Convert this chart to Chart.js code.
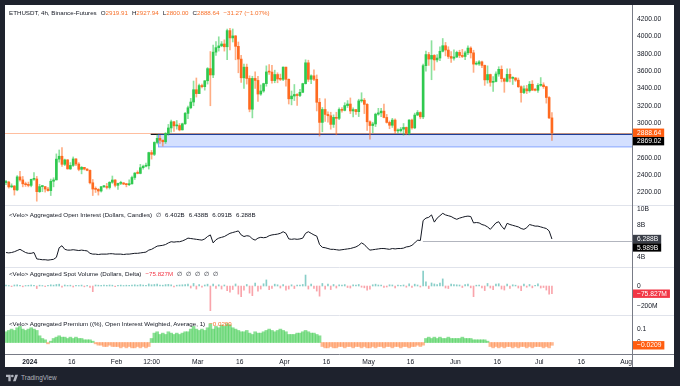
<!DOCTYPE html>
<html>
<head>
<meta charset="utf-8">
<title>ETHUSDT 4h</title>
<script src="https://cdn.jsdelivr.net/npm/chart.js@4.4.1/dist/chart.umd.min.js"></script>
<style>
  html, body { margin: 0; padding: 0; }
  body { width: 680px; height: 386px; background: #1e222d; position: relative; overflow: hidden;
         font-family: "Liberation Sans", Arial, sans-serif; }
  #panel { position: absolute; left: 5px; top: 5px; width: 669px; height: 362px; background: #ffffff; }
  #priceChart { position: absolute; left: 0; top: 0; }
  .legend { position: absolute; left: 4px; font-size: 6.2px; line-height: 8px; color: #131722; white-space: nowrap; }
  .legend .item { margin-left: 4px; }
  .orange { color: #f7702a; }
  .red { color: #f23645; }
  #footer { position: absolute; left: 6px; top: 373px; color: #b2b5be; font-size: 6.5px; line-height: 10px;
            display: flex; align-items: center; gap: 3px; }
</style>
</head>
<body>
<div id="panel">
  <canvas id="priceChart" width="669" height="362"></canvas>
  <div class="legend" id="legPrice">ETHUSDT, 4h, Binance-Futures<span class="item">O<span class="orange">2919.91</span></span><span class="item">H<span class="orange">2927.94</span></span><span class="item">L<span class="orange">2800.00</span></span><span class="item">C<span class="orange">2888.64</span></span><span class="item orange">−31.27 (−1.07%)</span></div>
  <div class="legend" id="legOI">&lt;Velo&gt; Aggregated Open Interest (Dollars, Candles)<span class="item">∅</span><span class="item">6.402B</span><span class="item">6.438B</span><span class="item">6.091B</span><span class="item">6.288B</span></div>
  <div class="legend" id="legVol">&lt;Velo&gt; Aggregated Spot Volume (Dollars, Delta)<span class="item red">−75.827M</span><span class="item">∅</span><span class="item">∅</span><span class="item">∅</span><span class="item">∅</span><span class="item">∅</span></div>
  <div class="legend" id="legPrem">&lt;Velo&gt; Aggregated Premium ((%), Open Interest Weighted, Average, 1)<span class="item orange">−0.0209</span></div>
</div>
<div id="footer">
  <svg width="12" height="8" viewBox="0 0 36 24"><path d="M14 22H7V9H0V2h14v20zM29 22h-8l7-20h8l-7 20z" fill="#b2b5be"/><circle cx="19" cy="6" r="4" fill="#b2b5be"/></svg>
  <span>TradingView</span>
</div>

<script>
// Daily bars, first one is 2023-12-23 (day -9 counted from 2024-01-01)
const firstDay = -9;
const firstOpen = 2315;

const closes = [
  // Dec 23-31
  2320, 2265, 2275, 2230, 2380, 2345, 2300, 2290, 2282,
  // Jan
  2352, 2356, 2210, 2268, 2268, 2240, 2222, 2330, 2345, 2585, 2618, 2525, 2576, 2472, 2512, 2587,
  2528, 2467, 2490, 2470, 2455, 2312, 2240, 2236, 2217, 2267, 2268, 2258, 2318, 2344, 2283,
  // Feb
  2305, 2310, 2297, 2290, 2300, 2373, 2424, 2420, 2486, 2503, 2508, 2660, 2640, 2777, 2824,
  2803, 2785, 2880, 2944, 3015, 2968, 2972, 2922, 2992, 3112, 3177, 3243, 3385, 3340,
  // Mar
  3433, 3420, 3488, 3628, 3555, 3818, 3870, 3890, 3912, 3880, 4066, 3982, 4005, 3885, 3738, 3522,
  3645, 3515, 3160, 3515, 3492, 3335, 3370, 3455, 3590, 3588, 3490, 3560, 3508, 3505, 3645,
  // Apr
  3505, 3280, 3312, 3330, 3318, 3355, 3455, 3695, 3505, 3545, 3505, 3240, 3008, 3157, 3100,
  3085, 2985, 3066, 3055, 3157, 3147, 3202, 3220, 3140, 3156, 3132, 3256, 3264, 3216, 3015,
  // May
  2972, 2990, 3103, 3118, 3138, 3065, 3008, 2975, 3035, 2910, 2912, 2930, 2950, 2882, 3035, 2945,
  3093, 3122, 3072, 3662, 3790, 3738, 3780, 3728, 3750, 3828, 3892, 3842, 3768, 3748, 3762,
  // Jun
  3815, 3780, 3768, 3810, 3865, 3810, 3680, 3682, 3706, 3665, 3498, 3560, 3470, 3480, 3566,
  3620, 3512, 3482, 3562, 3516, 3520, 3495, 3420, 3352, 3395, 3372, 3448, 3380, 3378, 3435,
  // Jul 1-5
  3440, 3420, 3295, 3060, 2888.64
];

const highs = [
  2340, 2330, 2300, 2280, 2395, 2445, 2385, 2320, 2320,
  2355, 2430, 2385, 2295, 2280, 2270, 2260, 2355, 2370, 2645, 2690, 2717, 2585, 2580, 2545, 2610,
  2590, 2545, 2500, 2490, 2475, 2460, 2350, 2265, 2245, 2270, 2280, 2305, 2325, 2390, 2350,
  2310, 2330, 2315, 2305, 2345, 2390, 2430, 2450, 2525, 2515, 2540, 2665, 2685, 2785, 2865,
  2860, 2805, 2890, 2985, 3035, 3020, 3030, 2995, 3000, 3125, 3195, 3285, 3485, 3520,
  3450, 3450, 3490, 3640, 3825, 3900, 3940, 3995, 3940, 3960, 4085, 4093, 4085, 4010, 3935, 3780,
  3680, 3680, 3545, 3540, 3590, 3540, 3440, 3460, 3660, 3675, 3665, 3610, 3580, 3565, 3650,
  3645, 3510, 3370, 3445, 3340, 3390, 3460, 3730, 3725, 3555, 3615, 3555, 3285, 3180, 3280,
  3130, 3125, 3095, 3125, 3175, 3180, 3235, 3260, 3290, 3175, 3160, 3275, 3350, 3285, 3225,
  3025, 3010, 3115, 3170, 3170, 3220, 3100, 3025, 3055, 3050, 2935, 2950, 2995, 2955, 3040, 3045,
  3115, 3145, 3130, 3680, 3830, 3815, 3950, 3790, 3790, 3880, 3975, 3930, 3880, 3825, 3845,
  3830, 3840, 3850, 3830, 3890, 3880, 3840, 3710, 3720, 3715, 3670, 3660, 3565, 3535, 3590,
  3650, 3660, 3520, 3625, 3625, 3535, 3525, 3520, 3430, 3430, 3435, 3480, 3490, 3400, 3455,
  3525, 3465, 3425, 3305, 3120
];

const lows = [
  2290, 2250, 2255, 2170, 2220, 2330, 2265, 2270, 2265,
  2265, 2340, 2100, 2200, 2210, 2205, 2215, 2165, 2265, 2345, 2550, 2500, 2510, 2470, 2465, 2500,
  2510, 2450, 2415, 2460, 2450, 2300, 2165, 2200, 2170, 2205, 2255, 2240, 2240, 2305, 2265,
  2235, 2290, 2290, 2265, 2280, 2295, 2350, 2415, 2415, 2470, 2495, 2470, 2585, 2625, 2760,
  2765, 2735, 2765, 2860, 2895, 2905, 2930, 2910, 2920, 2985, 3050, 3165, 3200, 3300,
  3340, 3405, 3380, 3450, 3200, 3525, 3780, 3830, 3880, 3830, 3730, 3845, 3935, 3730, 3580, 3470,
  3400, 3450, 3130, 3060, 3400, 3250, 3320, 3355, 3425, 3560, 3460, 3465, 3465, 3490, 3490,
  3425, 3220, 3210, 3260, 3205, 3305, 3350, 3450, 3480, 3455, 3490, 3140, 2850, 2900, 3020,
  3010, 2930, 2950, 2865, 3040, 3125, 3140, 3180, 3110, 3070, 3100, 3075, 3240, 3110, 2915,
  2815, 2890, 2960, 3090, 3075, 3060, 3000, 2935, 2950, 2880, 2885, 2895, 2860, 2865, 2865, 2930,
  2935, 3085, 3050, 3050, 3600, 3665, 3500, 3610, 3705, 3720, 3820, 3775, 3745, 3700, 3725,
  3755, 3755, 3755, 3730, 3790, 3750, 3585, 3670, 3665, 3640, 3435, 3460, 3425, 3365, 3475,
  3540, 3475, 3355, 3475, 3475, 3445, 3480, 3410, 3240, 3340, 3340, 3355, 3375, 3370, 3355,
  3425, 3400, 3230, 3050, 2800
];

// Aggregated open interest, billions of dollars
const openInterest = [
  4.6, 4.55, 4.6, 4.7, 4.85, 5.0, 4.8, 4.6, 4.5,
  4.5, 4.6, 3.8, 3.75, 3.7, 3.7, 3.65, 3.7, 3.75, 4.0, 5.2, 5.45, 5.0, 4.9, 4.9, 4.95,
  4.9, 4.85, 4.9, 4.85, 4.8, 4.5, 4.4, 4.4, 4.35, 4.4, 4.4, 4.4, 4.45, 4.45, 4.4,
  4.4, 4.4, 4.35, 4.4, 4.4, 4.45, 4.5, 4.5, 4.55, 4.6, 4.65, 4.9, 5.0, 5.2, 5.4,
  5.45, 5.5, 5.6, 5.8, 5.95, 5.9, 5.95, 5.95, 6.05, 6.2, 6.4, 6.35, 6.3, 6.25,
  6.2, 6.15, 6.3, 6.6, 6.8, 5.8, 6.2, 6.4, 6.5, 6.6, 6.8, 7.0, 7.1, 7.2, 7.3, 6.8,
  6.6, 6.7, 6.65, 6.3, 6.15, 6.4, 6.5, 6.45, 6.5, 6.7, 6.8, 6.85, 6.9, 7.0, 7.2,
  7.0, 6.3, 6.25, 6.3, 6.25, 6.3, 6.4, 7.0, 7.2, 7.0, 6.8, 6.65, 5.6, 5.25, 5.2,
  5.1, 5.0, 5.0, 4.95, 4.9, 4.95, 5.0, 5.05, 5.1, 5.2, 5.3, 5.5, 5.8, 5.6, 5.2,
  4.9, 4.95, 5.0, 5.05, 5.1, 5.1, 5.05, 5.0, 5.1, 5.05, 5.1, 5.1, 5.15, 5.3, 5.35, 5.5,
  5.8, 6.15, 6.1, 8.6, 8.9, 9.0, 9.3, 8.4, 8.9, 9.2, 9.5, 9.3, 9.2, 9.1, 8.9,
  8.75, 8.9, 9.0, 9.1, 9.15, 9.1, 8.3, 8.35, 8.3, 8.1, 8.0, 7.8, 7.5, 7.9, 8.3,
  8.45, 7.9, 7.5, 8.25, 8.1, 8.0, 7.9, 7.8, 7.6, 7.5, 7.7, 8.1, 8.0, 7.9, 7.9,
  7.8, 7.7, 7.6, 7.3, 6.288
];

// Aggregated spot volume delta, millions of dollars
const volumeDelta = [
  8, 5, -6, 10, 12, 6, -8, 5, 7,
  10, 6, -25, 8, 5, -6, 7, 12, 9, 15, 18, -12, 10, 6, 8, -10,
  7, 5, 9, -8, 6, -15, -56, 10, 8, 6, 9, 7, 10, 8, -6,
  7, 9, 5, 8, 6, 10, 12, 8, 14, 9, 7, 20, 12, 15, 18,
  10, 8, 14, 16, 12, -10, 8, 10, 12, 14, 18, -20, 25, -30,
  15, -12, 10, 18, -243, 20, -25, 12, -30, 10, -45, -60, -35, 20, -80, -105,
  -40, 15, -70, -95, 30, -50, -30, 22, 60, -35, -25, 18, 12, -20, 15,
  -40, -30, 12, -25, 10, 8, 15, 108, -30, 20, -25, -50, -100, 25, -30,
  18, -35, 15, -20, 12, 10, 14, -15, -20, 12, 10, 15, -12, -18, -40,
  -30, 12, 18, 10, 8, -15, -10, 12, 10, -20, 8, 6, 10, -12, 22, -15,
  18, 10, -10, 148, 40, -25, 30, 20, 15, 30, 70, -20, -25, 18, 15,
  12, 10, -15, 14, 20, -18, -105, 8, 10, -20, -45, 25, -20, -35, 18,
  22, -30, -40, 20, -25, 12, 8, -20, -45, 18, -12, 15, -18, 6, 22,
  -20, -15, -40, -80, -75.827
];

// Aggregated premium, percent
const premium = [
  0.08, 0.09, 0.1, 0.09, 0.11, 0.12, 0.1, 0.09, 0.1,
  0.11, 0.1, 0.09, 0.05, 0.03, 0.02, -0.01, 0.01, 0.03, 0.04, 0.05, 0.04, 0.04, 0.03, 0.04, 0.03,
  0.04, 0.03, 0.03, 0.02, 0.02, 0.02, 0.01, -0.01, -0.02, -0.02, -0.03, -0.03, -0.02, -0.03, -0.03,
  -0.03, -0.04, -0.03, -0.04, -0.03, -0.04, -0.04, -0.03, -0.04, -0.03, -0.04, -0.03, 0.03, 0.07, 0.08,
  0.06, 0.07, 0.06, 0.08, 0.07, 0.06, 0.07, 0.06, 0.07, 0.08, 0.08, 0.1, 0.12, 0.1,
  0.09, 0.1, 0.09, 0.11, 0.14, 0.1, 0.12, 0.11, 0.13, 0.12, 0.14, 0.13, 0.11, 0.1, 0.09, 0.08,
  0.08, 0.09, 0.07, 0.06, 0.08, 0.07, 0.07, 0.08, 0.09, 0.1, 0.09, 0.08, 0.09, 0.1, 0.09,
  0.08, 0.06, 0.06, 0.06, 0.07, 0.07, 0.08, 0.09, 0.08, 0.07, 0.07, 0.06, 0.05, -0.03, -0.04,
  -0.04, -0.03, -0.04, -0.04, -0.03, -0.03, -0.04, -0.03, -0.03, -0.04, -0.03, -0.03, -0.04, -0.03, -0.04,
  -0.04, -0.03, -0.04, -0.03, -0.03, -0.04, -0.03, -0.03, -0.04, -0.03, -0.03, -0.04, -0.03, -0.03, -0.04, -0.03,
  -0.03, -0.02, -0.03, -0.02, 0.03, 0.04, 0.03, 0.04, 0.03, 0.04, 0.03, 0.03, 0.04, 0.03, 0.03,
  0.03, 0.03, 0.04, 0.03, 0.03, 0.03, 0.02, 0.02, 0.02, 0.02, 0.02, 0.01, -0.03, -0.04, -0.03,
  -0.04, -0.03, -0.04, -0.03, -0.03, -0.04, -0.03, -0.04, -0.03, -0.03, -0.04, -0.03, -0.04, -0.03, -0.03,
  -0.03, -0.04, -0.03, -0.04, -0.0209
];

// Time axis: day offsets from 2024-01-01 and their labels
const timeTicks = [0, 15, 31, 43.5, 60, 75, 91, 106, 121, 136, 152, 167, 182, 197, 213];
const timeLabels = ['2024', '16', 'Feb', '12:00', 'Mar', '16', 'Apr', '16', 'May', '16', 'Jun', '16', 'Jul', '16', 'Aug'];

const priceTicks = [2200, 2400, 2600, 2800, 3000, 3200, 3400, 3600, 3800, 4000, 4200];
const oiTicks = [4, 8, 10];
const volTicks = [-200, 0];
const premTicks = [0, 0.1];

// Drawn levels
const zoneTop = 2869.02;
const zoneBottom = 2725;
const zoneStart = 45.8;
const levelStart = 43.2;
const oiLevel = 5.989;
const oiLevelStart = 140.4;

const upColor = '#2fc94f';
const downColor = '#ff6a1f';
const upWick = 'rgba(47,201,79,0.55)';
const downWick = 'rgba(255,106,31,0.55)';

const days = closes.map((_, i) => firstDay + i + 0.5);
const opens = closes.map((c, i) => i === 0 ? firstOpen : closes[i - 1]);
const last = closes.length - 1;

const fontFamily = '"Liberation Sans", Arial, sans-serif';
Chart.defaults.font.family = fontFamily;

// Tags on the right-hand scale
const tagList = [
    { axis: 'yPrice', value: closes[last], text: closes[last].toFixed(2), bg: '#ff5d0f' },
    { axis: 'yPrice', value: zoneTop, text: zoneTop.toFixed(2), bg: '#000000' },
    { axis: 'yOI', value: openInterest[last], text: openInterest[last].toFixed(3) + 'B', bg: '#3a3e48' },
    { axis: 'yOI', value: oiLevel, text: oiLevel.toFixed(3) + 'B', bg: '#000000' },
    { axis: 'yVol', value: volumeDelta[last], text: '−' + Math.abs(volumeDelta[last]).toFixed(3) + 'M', bg: '#f23645' },
    { axis: 'yPrem', value: premium[last], text: '−' + Math.abs(premium[last]).toFixed(4), bg: '#ff5d0f' }
];

const overlayPlugin = {
    id: 'overlays',
    beforeDatasetsDraw(chart) {
        const { ctx, chartArea, scales } = chart;
        const { x, yPrice, yOI } = scales;
        ctx.save();

        // last price line
        const yl = Math.round(yPrice.getPixelForValue(closes[last])) + 0.5;
        ctx.strokeStyle = 'rgba(255,93,15,0.4)';
        ctx.lineWidth = 1;
        ctx.beginPath();
        ctx.moveTo(chartArea.left, yl);
        ctx.lineTo(chartArea.right, yl);
        ctx.stroke();

        // support level line
        const yz = yPrice.getPixelForValue(zoneTop);
        ctx.strokeStyle = '#131722';
        ctx.lineWidth = 1.2;
        ctx.beginPath();
        ctx.moveTo(x.getPixelForValue(levelStart), yz);
        ctx.lineTo(chartArea.right, yz);
        ctx.stroke();

        // support zone
        const zx = x.getPixelForValue(zoneStart);
        const zb = yPrice.getPixelForValue(zoneBottom);
        ctx.fillStyle = 'rgba(41,98,255,0.2)';
        ctx.fillRect(zx, yz, chartArea.right - zx, zb - yz);
        ctx.strokeStyle = 'rgba(41,98,255,0.5)';
        ctx.lineWidth = 1;
        ctx.strokeRect(Math.round(zx) + 0.5, yz, chartArea.right - zx, zb - yz);

        // open interest level
        const yo = Math.round(yOI.getPixelForValue(oiLevel)) + 0.5;
        ctx.strokeStyle = '#b2b5be';
        ctx.beginPath();
        ctx.moveTo(x.getPixelForValue(oiLevelStart), yo);
        ctx.lineTo(chartArea.right, yo);
        ctx.stroke();
        ctx.restore();
    },
    afterDraw(chart) {
        const { ctx, chartArea, scales } = chart;
        const W = chart.width, H = chart.height;
        ctx.save();

        // pane separators
        ctx.strokeStyle = '#e0e3eb';
        ctx.lineWidth = 1;
        ['yOI', 'yVol', 'yPrem'].forEach(id => {
            const y = Math.round(scales[id].top) + 0.5;
            ctx.beginPath();
            ctx.moveTo(0, y);
            ctx.lineTo(W, y);
            ctx.stroke();
        });

        // scale borders
        ctx.strokeStyle = '#787b86';
        const ax = Math.round(chartArea.right) + 0.5;
        ctx.beginPath();
        ctx.moveTo(ax, 0);
        ctx.lineTo(ax, H);
        ctx.stroke();
        const ay = Math.round(chartArea.bottom) + 0.5;
        ctx.beginPath();
        ctx.moveTo(0, ay);
        ctx.lineTo(W, ay);
        ctx.stroke();

        // value tags, pushed down when they overlap
        ctx.font = '6.7px ' + fontFamily;
        ctx.textBaseline = 'middle';
        let prevAxis = null, prevBottom = -Infinity;
        tagList.forEach(t => {
            if (t.axis !== prevAxis) { prevAxis = t.axis; prevBottom = -Infinity; }
            const h = 8.4;
            let top = scales[t.axis].getPixelForValue(t.value) - h / 2;
            if (top < prevBottom) top = prevBottom;
            const w = ctx.measureText(t.text).width + 7;
            ctx.fillStyle = t.bg;
            ctx.fillRect(chartArea.right + 1, top, w, h);
            ctx.fillStyle = '#ffffff';
            ctx.fillText(t.text, chartArea.right + 5, top + h / 2 + 0.3);
            prevBottom = top + h;
        });
        ctx.restore();
    }
};

// Labels may overflow the panes, so the layout should not reserve room for them
function noPadding(axis) {
    axis.paddingTop = 0;
    axis.paddingBottom = 0;
    axis.paddingLeft = 0;
    axis.paddingRight = 0;
}

function paneAxis(weight, min, max, ticks, fmt) {
    return {
        type: 'linear',
        position: 'right',
        stack: 'panes',
        stackWeight: weight,
        min: min,
        max: max,
        grid: { display: false, drawTicks: false },
        border: { display: false },
        ticks: {
            padding: 5,
            color: '#131722',
            autoSkip: false,
            font: { size: 6.7 },
            callback: fmt
        },
        afterBuildTicks: axis => { axis.ticks = ticks.map(v => ({ value: v })); },
        afterFit: axis => { axis.width = 42; noPadding(axis); }
    };
}

const chartConfig = {
    type: 'bar',
    data: {
        datasets: [
            {
                // candle bodies
                data: days.map((d, i) => ({ x: d, y: [opens[i], closes[i]] })),
                yAxisID: 'yPrice',
                backgroundColor: c => closes[c.dataIndex] >= opens[c.dataIndex] ? upColor : downColor,
                barThickness: 2,
                minBarLength: 1,
                grouped: false
            },
            {
                // candle wicks
                data: days.map((d, i) => ({ x: d, y: [lows[i], highs[i]] })),
                yAxisID: 'yPrice',
                backgroundColor: c => closes[c.dataIndex] >= opens[c.dataIndex] ? upWick : downWick,
                barThickness: 1,
                grouped: false
            },
            {
                type: 'line',
                data: days.map((d, i) => ({ x: d, y: openInterest[i] })),
                yAxisID: 'yOI',
                borderColor: '#131722',
                borderWidth: 1,
                pointRadius: 0,
                tension: 0
            },
            {
                data: days.map((d, i) => ({ x: d, y: volumeDelta[i] })),
                yAxisID: 'yVol',
                backgroundColor: c => volumeDelta[c.dataIndex] >= 0 ? 'rgba(38,166,154,0.55)' : 'rgba(242,54,69,0.45)',
                barThickness: 1,
                grouped: false
            },
            {
                data: days.map((d, i) => ({ x: d, y: premium[i] })),
                yAxisID: 'yPrem',
                backgroundColor: c => premium[c.dataIndex] >= 0 ? 'rgba(76,208,90,0.65)' : 'rgba(255,130,60,0.55)',
                barThickness: 3,
                grouped: false
            }
        ]
    },
    options: {
        responsive: false,
        animation: false,
        layout: { padding: 0 },
        plugins: {
            legend: { display: false },
            tooltip: { enabled: false }
        },
        scales: {
            x: {
                type: 'linear',
                min: -8.85,
                max: 215.1,
                offset: false,
                grid: { display: false, drawTicks: false, offset: false },
                border: { display: false },
                ticks: {
                    padding: 4,
                    maxRotation: 0,
                    autoSkip: false,
                    color: '#131722',
                    font: c => ({ size: 6.7, weight: c.tick && c.tick.value === 0 ? 'bold' : 'normal' }),
                    callback: v => {
                        const k = timeTicks.indexOf(v);
                        return k >= 0 ? timeLabels[k] : '';
                    }
                },
                afterBuildTicks: axis => { axis.ticks = timeTicks.map(v => ({ value: v })); },
                afterFit: axis => { axis.height = 13; noPadding(axis); }
            },
            yPrice: paneAxis(200, 2055.9, 4361.4, priceTicks, v => v.toFixed(2)),
            yOI: paneAxis(62, 2.79, 10.54, oiTicks, v => v + 'B'),
            yVol: paneAxis(48, -285.7, 187.2, volTicks, v => v === 0 ? '0' : '−' + Math.abs(v) + 'M'),
            yPrem: paneAxis(39, -0.0858, 0.2052, premTicks, v => String(v))
        }
    },
    plugins: [overlayPlugin]
};

const chart = new Chart(document.getElementById('priceChart'), chartConfig);

// Pane legends sit at the top of their pane
[['legPrice', 'yPrice', 4.3], ['legOI', 'yOI', 5.7], ['legVol', 'yVol', 3.3], ['legPrem', 'yPrem', 5]].forEach(([id, axisId, off]) => {
    document.getElementById(id).style.top = (chart.scales[axisId].top + off) + 'px';
});
</script>
</body>
</html>
